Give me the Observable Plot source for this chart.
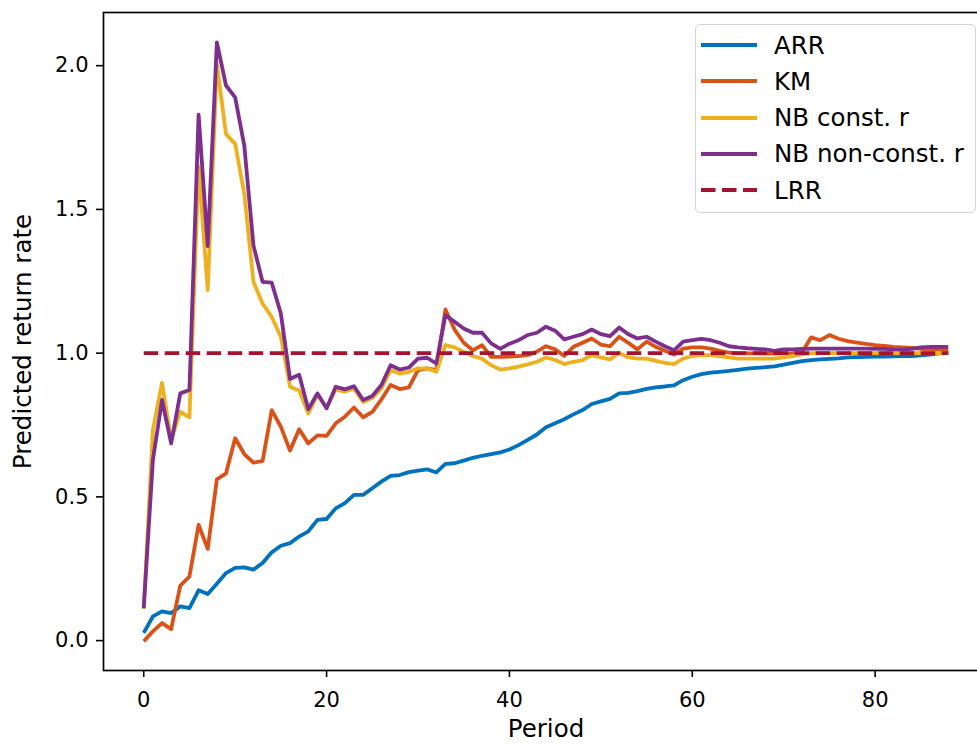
<!DOCTYPE html>
<html>
<head>
<meta charset="utf-8">
<script src="https://cdn.jsdelivr.net/npm/d3@7"></script>
<script src="https://cdn.jsdelivr.net/npm/@observablehq/plot@0.6"></script>
<style>
  html, body { margin: 0; padding: 0; background: white; overflow: hidden; }
  #wrap { position: relative; width: 977px; height: 744px; }
  #legend {
    position: absolute; left: 695px; top: 24px; width: 281px; height: 189px;
    border: 1.5px solid #d4d4d4; border-radius: 5px; background: rgba(255,255,255,0.85);
    font-family: "DejaVu Sans", sans-serif; font-size: 24.5px; color: black; box-sizing: border-box;
  }
  .row { position: absolute; left: 0; height: 30px; display: flex; align-items: center; }
  .row svg { margin-left: 5px; margin-right: 17px; }
</style>
</head>
<body>
<div id="wrap"><div id="legend"></div></div>
<script>
const seriesNames = ["ARR", "KM", "NB const. r", "NB non-const. r"];
const seriesColors = ["#0072BD", "#D95319", "#EDB120", "#7E2F8E"];
const lrrName = "LRR";
const lrrColor = "#A2142F";

const arr = [0.027,0.084,0.102,0.096,0.119,0.113,0.175,0.162,0.198,0.235,
  0.253,0.255,0.247,0.270,0.307,0.330,0.339,0.362,0.380,0.420,
  0.423,0.460,0.478,0.507,0.507,0.530,0.553,0.573,0.576,0.586,
  0.591,0.596,0.585,0.615,0.617,0.626,0.636,0.643,0.649,0.655,
  0.665,0.680,0.698,0.717,0.742,0.756,0.770,0.787,0.802,0.823,
  0.832,0.841,0.860,0.862,0.868,0.876,0.881,0.884,0.888,0.906,
  0.918,0.927,0.932,0.935,0.938,0.942,0.946,0.949,0.951,0.954,
  0.960,0.966,0.972,0.976,0.978,0.980,0.982,0.985,0.986,0.987,
  0.988,0.988,0.989,0.990,0.990,0.992,0.995,0.999,1.000];

const km = [-0.002,0.032,0.061,0.040,0.191,0.223,0.403,0.319,0.561,0.582,
  0.704,0.649,0.619,0.625,0.802,0.744,0.661,0.735,0.686,0.714,
  0.712,0.756,0.779,0.811,0.777,0.796,0.839,0.889,0.875,0.881,
  0.941,0.947,0.941,1.152,1.082,1.036,1.010,1.028,0.987,0.987,
  0.988,0.990,0.993,1.005,1.024,1.013,0.990,1.022,1.036,1.051,
  1.030,1.024,1.057,1.036,1.013,1.040,1.022,1.008,0.995,1.016,
  1.020,1.020,1.016,1.008,1.002,0.999,0.999,0.999,0.998,0.998,
  0.999,1.000,1.002,1.055,1.045,1.063,1.050,1.042,1.037,1.032,
  1.028,1.025,1.022,1.020,1.018,1.015,1.013,1.012,1.012];

const nbConst = [0.110,0.733,0.897,0.698,0.796,0.777,1.650,1.219,2.005,1.762,
  1.728,1.554,1.248,1.172,1.126,1.057,0.883,0.870,0.790,0.855,
  0.810,0.874,0.866,0.877,0.830,0.844,0.877,0.941,0.929,0.935,
  0.947,0.947,0.935,1.028,1.020,1.005,0.990,0.981,0.958,0.943,
  0.947,0.953,0.961,0.970,0.985,0.976,0.962,0.970,0.976,0.993,
  0.985,0.978,1.001,0.985,0.981,0.981,0.973,0.966,0.962,0.981,
  0.990,0.993,0.993,0.990,0.985,0.981,0.981,0.981,0.981,0.981,
  0.985,0.990,0.996,1.000,1.000,1.000,1.000,1.000,1.000,1.000,
  1.000,1.000,1.000,1.000,1.000,1.000,1.000,1.000,1.000];

const nbNonConst = [0.113,0.628,0.837,0.686,0.860,0.872,1.830,1.372,2.081,1.931,
  1.890,1.722,1.375,1.248,1.245,1.138,0.910,0.925,0.805,0.860,
  0.808,0.883,0.874,0.885,0.837,0.851,0.889,0.958,0.943,0.950,
  0.981,0.984,0.964,1.132,1.109,1.086,1.071,1.071,1.034,1.015,
  1.033,1.045,1.063,1.071,1.092,1.078,1.048,1.057,1.066,1.082,
  1.066,1.059,1.089,1.066,1.051,1.057,1.040,1.024,1.010,1.040,
  1.045,1.050,1.045,1.036,1.024,1.020,1.017,1.015,1.013,1.008,
  1.013,1.013,1.015,1.016,1.016,1.016,1.016,1.016,1.016,1.016,
  1.015,1.015,1.013,1.012,1.015,1.020,1.022,1.022,1.022];

const lrrPeriods = [0, 88];
const lrrValues = [1.0, 1.0];

const xTicks = [0, 20, 40, 60, 80];
const yTicks = [0.0, 0.5, 1.0, 1.5, 2.0];

const allSeries = [arr, km, nbConst, nbNonConst];
const rows = allSeries.flatMap((vals, s) =>
  vals.map((v, i) => ({period: i, value: v, series: seriesNames[s]})));
const lrrRows = lrrPeriods.map((p, i) => ({period: p, value: lrrValues[i], series: lrrName}));

const chart = Plot.plot({
  width: 977,
  height: 744,
  marginLeft: 103,
  marginRight: -11,
  marginTop: 12,
  marginBottom: 74,
  style: {fontFamily: "DejaVu Sans, sans-serif", fontSize: "21px", color: "black", background: "white", overflow: "visible"},
  x: {domain: [-4.4, 92.4]},
  y: {domain: [-0.104, 2.185]},
  color: {domain: [...seriesNames, lrrName], range: [...seriesColors, lrrColor]},
  marks: [
    Plot.line(rows, {x: "period", y: "value", z: "series", stroke: "series", strokeWidth: 3.8, strokeLinejoin: "round", strokeLinecap: "butt"}),
    Plot.line(lrrRows, {x: "period", y: "value", stroke: "series", strokeWidth: 3.8, strokeDasharray: "14.5,6.5", strokeLinecap: "butt"}),
    Plot.frame({stroke: "black", strokeWidth: 1.7}),
    Plot.axisX({ticks: xTicks, tickSize: 7, tickPadding: 15, strokeWidth: 1.6, label: null}),
    Plot.axisX({ticks: [], label: "Period", labelAnchor: "center", labelArrow: "none", labelOffset: 66, fontSize: 24.5}),
    Plot.axisY({ticks: yTicks, tickFormat: d3.format(".1f"), tickSize: 7, tickPadding: 8, strokeWidth: 1.6, label: null}),
    Plot.axisY({ticks: [], label: "Predicted return rate", labelAnchor: "center", labelArrow: "none", labelOffset: 90, fontSize: 24.5})
  ]
});
document.getElementById("wrap").prepend(chart);

const legend = document.getElementById("legend");
const entries = seriesNames.map((n, i) => ({name: n, color: seriesColors[i], dash: null}))
  .concat([{name: lrrName, color: lrrColor, dash: "14.5,6.5"}]);
entries.forEach((e, i) => {
  const row = document.createElement("div");
  row.className = "row";
  row.style.top = (5 + i * 36.3) + "px";
  row.innerHTML = `<svg width="56" height="8"><line x1="0" y1="4" x2="56" y2="4" stroke="${e.color}" stroke-width="3.8" ${e.dash ? `stroke-dasharray="${e.dash}"` : ""}/></svg><span>${e.name}</span>`;
  legend.appendChild(row);
});
</script>
</body>
</html>
